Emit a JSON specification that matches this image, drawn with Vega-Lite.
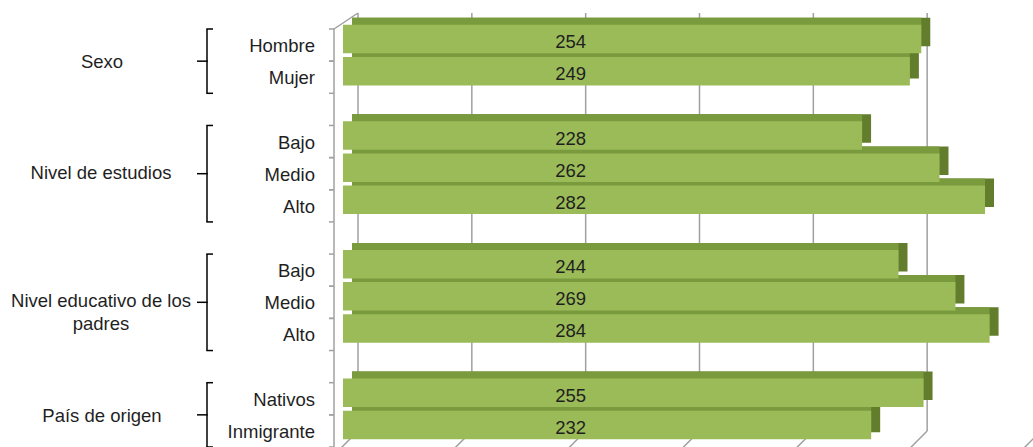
{
  "$schema": "https://vega.github.io/schema/vega-lite/v6.json",
  "description": "Puntuación media por sexo, nivel de estudios, nivel educativo de los padres y país de origen.",
  "width": 1033,
  "height": 447,
  "padding": 0,
  "autosize": {"type": "none"},
  "config": {
    "view": {"stroke": null},
    "font": "Liberation Sans",
    "text": {"font": "Liberation Sans", "fontSize": 18.5, "color": "#1f1f1f"}
  },
  "datasets": {
    "resultados": [
      {"grupo": "Sexo", "categoria": "Hombre", "valor": 254},
      {"grupo": "Sexo", "categoria": "Mujer", "valor": 249},
      {"grupo": "Nivel de estudios", "categoria": "Bajo", "valor": 228},
      {"grupo": "Nivel de estudios", "categoria": "Medio", "valor": 262},
      {"grupo": "Nivel de estudios", "categoria": "Alto", "valor": 282},
      {"grupo": "Nivel educativo de los padres", "categoria": "Bajo", "valor": 244},
      {"grupo": "Nivel educativo de los padres", "categoria": "Medio", "valor": 269},
      {"grupo": "Nivel educativo de los padres", "categoria": "Alto", "valor": 284},
      {"grupo": "País de origen", "categoria": "Nativos", "valor": 255},
      {"grupo": "País de origen", "categoria": "Inmigrante", "valor": 232}
    ],
    "grupos": [
      {"rotulo": "Sexo", "primero": "Sexo|Hombre", "centro": "Sexo|Mujer", "ultimo": "Sexo|Mujer", "filas": 2},
      {"rotulo": "Nivel de estudios", "primero": "Nivel de estudios|Bajo", "centro": "Nivel de estudios|Medio", "ultimo": "Nivel de estudios|Alto", "filas": 3},
      {"rotulo": "Nivel educativo de los\npadres", "primero": "Nivel educativo de los padres|Bajo", "centro": "Nivel educativo de los padres|Medio", "ultimo": "Nivel educativo de los padres|Alto", "filas": 3},
      {"rotulo": "País de origen", "primero": "País de origen|Nativos", "centro": "País de origen|Inmigrante", "ultimo": "País de origen|Inmigrante", "filas": 2}
    ],
    "escala": [
      {"valor": 0}, {"valor": 50}, {"valor": 100}, {"valor": 150},
      {"valor": 200}, {"valor": 250}, {"valor": 300}
    ]
  },
  "layer": [
    {
      "layer": [
        {
          "data": {"name": "escala"},
          "transform": [{"filter": "datum.valor <= 250"}],
          "mark": {"type": "rule", "color": "#a0a0a0", "strokeWidth": 1.5, "xOffset": 15, "yOffset": -16, "y2Offset": -16},
          "encoding": {
            "x": {"field": "valor", "type": "quantitative", "scale": {"domain": [0, 300], "range": [343, 1026], "nice": false}, "axis": null},
            "y": {"datum": "Sexo|Hombre", "type": "nominal", "bandPosition": 0,
                  "scale": {"domain": ["Sexo|Hombre", "Sexo|Mujer", "_1", "Nivel de estudios|Bajo", "Nivel de estudios|Medio", "Nivel de estudios|Alto", "_2", "Nivel educativo de los padres|Bajo", "Nivel educativo de los padres|Medio", "Nivel educativo de los padres|Alto", "_3", "País de origen|Nativos", "País de origen|Inmigrante"], "range": [29, 447], "paddingInner": 0, "paddingOuter": 0},
                  "axis": null},
            "y2": {"datum": "País de origen|Inmigrante", "bandPosition": 1}
          }
        },
        {
          "data": {"name": "escala"},
          "mark": {"type": "rule", "color": "#a0a0a0", "strokeWidth": 1.5, "xOffset": -9, "x2Offset": 15, "yOffset": 8, "y2Offset": -16},
          "encoding": {
            "x": {"field": "valor", "type": "quantitative", "scale": {"domain": [0, 300], "range": [343, 1026], "nice": false}, "axis": null},
            "x2": {"field": "valor"},
            "y": {"datum": "País de origen|Inmigrante", "type": "nominal", "bandPosition": 1,
                  "scale": {"domain": ["Sexo|Hombre", "Sexo|Mujer", "_1", "Nivel de estudios|Bajo", "Nivel de estudios|Medio", "Nivel de estudios|Alto", "_2", "Nivel educativo de los padres|Bajo", "Nivel educativo de los padres|Medio", "Nivel educativo de los padres|Alto", "_3", "País de origen|Nativos", "País de origen|Inmigrante"], "range": [29, 447], "paddingInner": 0, "paddingOuter": 0},
                  "axis": null},
            "y2": {"datum": "País de origen|Inmigrante", "bandPosition": 1}
          }
        },
        {
          "data": {"values": [{}]},
          "mark": {"type": "rule", "color": "#a0a0a0", "strokeWidth": 1.5, "xOffset": -9, "x2Offset": 15, "y2Offset": -16},
          "encoding": {
            "x": {"datum": 0, "type": "quantitative", "scale": {"domain": [0, 300], "range": [343, 1026], "nice": false}, "axis": null},
            "x2": {"datum": 0},
            "y": {"datum": "Sexo|Hombre", "type": "nominal", "bandPosition": 0,
                  "scale": {"domain": ["Sexo|Hombre", "Sexo|Mujer", "_1", "Nivel de estudios|Bajo", "Nivel de estudios|Medio", "Nivel de estudios|Alto", "_2", "Nivel educativo de los padres|Bajo", "Nivel educativo de los padres|Medio", "Nivel educativo de los padres|Alto", "_3", "País de origen|Nativos", "País de origen|Inmigrante"], "range": [29, 447], "paddingInner": 0, "paddingOuter": 0},
                  "axis": null},
            "y2": {"datum": "Sexo|Hombre", "bandPosition": 0}
          }
        },
        {
          "data": {"values": [{}]},
          "mark": {"type": "rule", "color": "#a0a0a0", "strokeWidth": 1.5, "xOffset": -9},
          "encoding": {
            "x": {"datum": 0, "type": "quantitative", "scale": {"domain": [0, 300], "range": [343, 1026], "nice": false}, "axis": null},
            "y": {"datum": "Sexo|Hombre", "type": "nominal", "bandPosition": 0,
                  "scale": {"domain": ["Sexo|Hombre", "Sexo|Mujer", "_1", "Nivel de estudios|Bajo", "Nivel de estudios|Medio", "Nivel de estudios|Alto", "_2", "Nivel educativo de los padres|Bajo", "Nivel educativo de los padres|Medio", "Nivel educativo de los padres|Alto", "_3", "País de origen|Nativos", "País de origen|Inmigrante"], "range": [29, 447], "paddingInner": 0, "paddingOuter": 0},
                  "axis": null},
            "y2": {"datum": "País de origen|Inmigrante", "bandPosition": 1}
          }
        },
        {
          "data": {"name": "resultados"},
          "transform": [{"calculate": "datum.grupo + '|' + datum.categoria", "as": "clave"}],
          "layer": [
            {
              "mark": {"type": "rule", "color": "#a0a0a0", "strokeWidth": 1.5, "xOffset": -14, "x2Offset": -9},
              "encoding": {
                "x": {"datum": 0, "type": "quantitative", "scale": {"domain": [0, 300], "range": [343, 1026], "nice": false}, "axis": null},
                "x2": {"datum": 0},
                "y": {"field": "clave", "type": "nominal", "bandPosition": 0,
                      "scale": {"domain": ["Sexo|Hombre", "Sexo|Mujer", "_1", "Nivel de estudios|Bajo", "Nivel de estudios|Medio", "Nivel de estudios|Alto", "_2", "Nivel educativo de los padres|Bajo", "Nivel educativo de los padres|Medio", "Nivel educativo de los padres|Alto", "_3", "País de origen|Nativos", "País de origen|Inmigrante"], "range": [29, 447], "paddingInner": 0, "paddingOuter": 0},
                      "axis": null}
              }
            },
            {
              "mark": {"type": "rule", "color": "#a0a0a0", "strokeWidth": 1.5, "xOffset": -14, "x2Offset": -9},
              "encoding": {
                "x": {"datum": 0, "type": "quantitative", "scale": {"domain": [0, 300], "range": [343, 1026], "nice": false}, "axis": null},
                "x2": {"datum": 0},
                "y": {"field": "clave", "type": "nominal", "bandPosition": 1,
                      "scale": {"domain": ["Sexo|Hombre", "Sexo|Mujer", "_1", "Nivel de estudios|Bajo", "Nivel de estudios|Medio", "Nivel de estudios|Alto", "_2", "Nivel educativo de los padres|Bajo", "Nivel educativo de los padres|Medio", "Nivel educativo de los padres|Alto", "_3", "País de origen|Nativos", "País de origen|Inmigrante"], "range": [29, 447], "paddingInner": 0, "paddingOuter": 0},
                      "axis": null}
              }
            },
            {
              "mark": {"type": "bar", "color": "#627d2c", "height": {"band": 0.886}, "xOffset": 9, "x2Offset": 9, "yOffset": -13},
              "encoding": {
                "x": {"field": "valor", "type": "quantitative", "scale": {"domain": [0, 300], "range": [343, 1026], "nice": false}, "axis": null},
                "x2": {"datum": 0},
                "y": {"field": "clave", "type": "nominal",
                      "scale": {"domain": ["Sexo|Hombre", "Sexo|Mujer", "_1", "Nivel de estudios|Bajo", "Nivel de estudios|Medio", "Nivel de estudios|Alto", "_2", "Nivel educativo de los padres|Bajo", "Nivel educativo de los padres|Medio", "Nivel educativo de los padres|Alto", "_3", "País de origen|Nativos", "País de origen|Inmigrante"], "range": [29, 447], "paddingInner": 0, "paddingOuter": 0},
                      "axis": null}
              }
            },
            {
              "mark": {"type": "bar", "color": "#7a9a3e", "height": {"band": 0.886}, "x2Offset": 9, "yOffset": -13},
              "encoding": {
                "x": {"field": "valor", "type": "quantitative", "scale": {"domain": [0, 300], "range": [343, 1026], "nice": false}, "axis": null},
                "x2": {"datum": 0},
                "y": {"field": "clave", "type": "nominal",
                      "scale": {"domain": ["Sexo|Hombre", "Sexo|Mujer", "_1", "Nivel de estudios|Bajo", "Nivel de estudios|Medio", "Nivel de estudios|Alto", "_2", "Nivel educativo de los padres|Bajo", "Nivel educativo de los padres|Medio", "Nivel educativo de los padres|Alto", "_3", "País de origen|Nativos", "País de origen|Inmigrante"], "range": [29, 447], "paddingInner": 0, "paddingOuter": 0},
                      "axis": null}
              }
            },
            {
              "mark": {"type": "bar", "color": "#9bbb59", "height": {"band": 0.886}, "yOffset": -6},
              "encoding": {
                "x": {"field": "valor", "type": "quantitative", "scale": {"domain": [0, 300], "range": [343, 1026], "nice": false}, "axis": null},
                "x2": {"datum": 0},
                "y": {"field": "clave", "type": "nominal",
                      "scale": {"domain": ["Sexo|Hombre", "Sexo|Mujer", "_1", "Nivel de estudios|Bajo", "Nivel de estudios|Medio", "Nivel de estudios|Alto", "_2", "Nivel educativo de los padres|Bajo", "Nivel educativo de los padres|Medio", "Nivel educativo de los padres|Alto", "_3", "País de origen|Nativos", "País de origen|Inmigrante"], "range": [29, 447], "paddingInner": 0, "paddingOuter": 0},
                      "axis": null}
              }
            },
            {
              "mark": {"type": "text", "yOffset": -3, "baseline": "middle"},
              "encoding": {
                "x": {"datum": 100, "type": "quantitative", "scale": {"domain": [0, 300], "range": [343, 1026], "nice": false}, "axis": null},
                "y": {"field": "clave", "type": "nominal",
                      "scale": {"domain": ["Sexo|Hombre", "Sexo|Mujer", "_1", "Nivel de estudios|Bajo", "Nivel de estudios|Medio", "Nivel de estudios|Alto", "_2", "Nivel educativo de los padres|Bajo", "Nivel educativo de los padres|Medio", "Nivel educativo de los padres|Alto", "_3", "País de origen|Nativos", "País de origen|Inmigrante"], "range": [29, 447], "paddingInner": 0, "paddingOuter": 0},
                      "axis": null},
                "text": {"field": "valor", "type": "quantitative"}
              }
            }
          ]
        }
      ]
    },
    {
      "layer": [
        {
          "data": {"name": "resultados"},
          "transform": [{"calculate": "datum.grupo + '|' + datum.categoria", "as": "clave"}],
          "mark": {"type": "text", "align": "right", "baseline": "middle", "dy": 1},
          "encoding": {
            "x": {"datum": 315, "type": "quantitative", "scale": {"domain": [0, 343], "range": [0, 343], "nice": false}, "axis": null},
            "y": {"field": "clave", "type": "nominal",
                  "scale": {"domain": ["Sexo|Hombre", "Sexo|Mujer", "_1", "Nivel de estudios|Bajo", "Nivel de estudios|Medio", "Nivel de estudios|Alto", "_2", "Nivel educativo de los padres|Bajo", "Nivel educativo de los padres|Medio", "Nivel educativo de los padres|Alto", "_3", "País de origen|Nativos", "País de origen|Inmigrante"], "range": [29, 447], "paddingInner": 0, "paddingOuter": 0},
                  "axis": null},
            "text": {"field": "categoria"}
          }
        },
        {
          "data": {"name": "grupos"},
          "layer": [
            {
              "mark": {"type": "rule", "color": "#000000", "strokeWidth": 1.5},
              "encoding": {
                "x": {"datum": 207, "type": "quantitative", "scale": {"domain": [0, 343], "range": [0, 343], "nice": false}, "axis": null},
                "y": {"field": "primero", "type": "nominal", "bandPosition": 0,
                      "scale": {"domain": ["Sexo|Hombre", "Sexo|Mujer", "_1", "Nivel de estudios|Bajo", "Nivel de estudios|Medio", "Nivel de estudios|Alto", "_2", "Nivel educativo de los padres|Bajo", "Nivel educativo de los padres|Medio", "Nivel educativo de los padres|Alto", "_3", "País de origen|Nativos", "País de origen|Inmigrante"], "range": [29, 447], "paddingInner": 0, "paddingOuter": 0},
                      "axis": null},
                "y2": {"field": "ultimo", "bandPosition": 1}
              }
            },
            {
              "mark": {"type": "rule", "color": "#000000", "strokeWidth": 1.5},
              "encoding": {
                "x": {"datum": 206.3, "type": "quantitative", "scale": {"domain": [0, 343], "range": [0, 343], "nice": false}, "axis": null},
                "x2": {"datum": 213},
                "y": {"field": "primero", "type": "nominal", "bandPosition": 0,
                      "scale": {"domain": ["Sexo|Hombre", "Sexo|Mujer", "_1", "Nivel de estudios|Bajo", "Nivel de estudios|Medio", "Nivel de estudios|Alto", "_2", "Nivel educativo de los padres|Bajo", "Nivel educativo de los padres|Medio", "Nivel educativo de los padres|Alto", "_3", "País de origen|Nativos", "País de origen|Inmigrante"], "range": [29, 447], "paddingInner": 0, "paddingOuter": 0},
                      "axis": null}
              }
            },
            {
              "mark": {"type": "rule", "color": "#000000", "strokeWidth": 1.5},
              "encoding": {
                "x": {"datum": 206.3, "type": "quantitative", "scale": {"domain": [0, 343], "range": [0, 343], "nice": false}, "axis": null},
                "x2": {"datum": 213},
                "y": {"field": "ultimo", "type": "nominal", "bandPosition": 1,
                      "scale": {"domain": ["Sexo|Hombre", "Sexo|Mujer", "_1", "Nivel de estudios|Bajo", "Nivel de estudios|Medio", "Nivel de estudios|Alto", "_2", "Nivel educativo de los padres|Bajo", "Nivel educativo de los padres|Medio", "Nivel educativo de los padres|Alto", "_3", "País de origen|Nativos", "País de origen|Inmigrante"], "range": [29, 447], "paddingInner": 0, "paddingOuter": 0},
                      "axis": null}
              }
            },
            {
              "transform": [{"filter": "datum.filas == 2"}],
              "encoding": {
                "y": {"field": "centro", "type": "nominal", "bandPosition": 0,
                      "scale": {"domain": ["Sexo|Hombre", "Sexo|Mujer", "_1", "Nivel de estudios|Bajo", "Nivel de estudios|Medio", "Nivel de estudios|Alto", "_2", "Nivel educativo de los padres|Bajo", "Nivel educativo de los padres|Medio", "Nivel educativo de los padres|Alto", "_3", "País de origen|Nativos", "País de origen|Inmigrante"], "range": [29, 447], "paddingInner": 0, "paddingOuter": 0},
                      "axis": null}
              },
              "layer": [
                {
                  "mark": {"type": "rule", "color": "#000000", "strokeWidth": 1.5},
                  "encoding": {
                    "x": {"datum": 197, "type": "quantitative", "scale": {"domain": [0, 343], "range": [0, 343], "nice": false}, "axis": null},
                    "x2": {"datum": 207.7}
                  }
                },
                {
                  "mark": {"type": "text", "align": "center", "baseline": "middle", "dy": 1, "lineBreak": "\n", "lineHeight": 23},
                  "encoding": {
                    "x": {"datum": 102, "type": "quantitative", "scale": {"domain": [0, 343], "range": [0, 343], "nice": false}, "axis": null},
                    "text": {"field": "rotulo"}
                  }
                }
              ]
            },
            {
              "transform": [{"filter": "datum.filas == 3"}],
              "encoding": {
                "y": {"field": "centro", "type": "nominal", "bandPosition": 0.5,
                      "scale": {"domain": ["Sexo|Hombre", "Sexo|Mujer", "_1", "Nivel de estudios|Bajo", "Nivel de estudios|Medio", "Nivel de estudios|Alto", "_2", "Nivel educativo de los padres|Bajo", "Nivel educativo de los padres|Medio", "Nivel educativo de los padres|Alto", "_3", "País de origen|Nativos", "País de origen|Inmigrante"], "range": [29, 447], "paddingInner": 0, "paddingOuter": 0},
                      "axis": null}
              },
              "layer": [
                {
                  "mark": {"type": "rule", "color": "#000000", "strokeWidth": 1.5},
                  "encoding": {
                    "x": {"datum": 197, "type": "quantitative", "scale": {"domain": [0, 343], "range": [0, 343], "nice": false}, "axis": null},
                    "x2": {"datum": 207.7}
                  }
                },
                {
                  "mark": {"type": "text", "align": "center", "baseline": "middle", "dy": -1, "lineBreak": "\n", "lineHeight": 23},
                  "encoding": {
                    "x": {"datum": 101, "type": "quantitative", "scale": {"domain": [0, 343], "range": [0, 343], "nice": false}, "axis": null},
                    "text": {"field": "rotulo"}
                  }
                }
              ]
            }
          ]
        }
      ]
    }
  ],
  "resolve": {"scale": {"x": "independent"}}
}
